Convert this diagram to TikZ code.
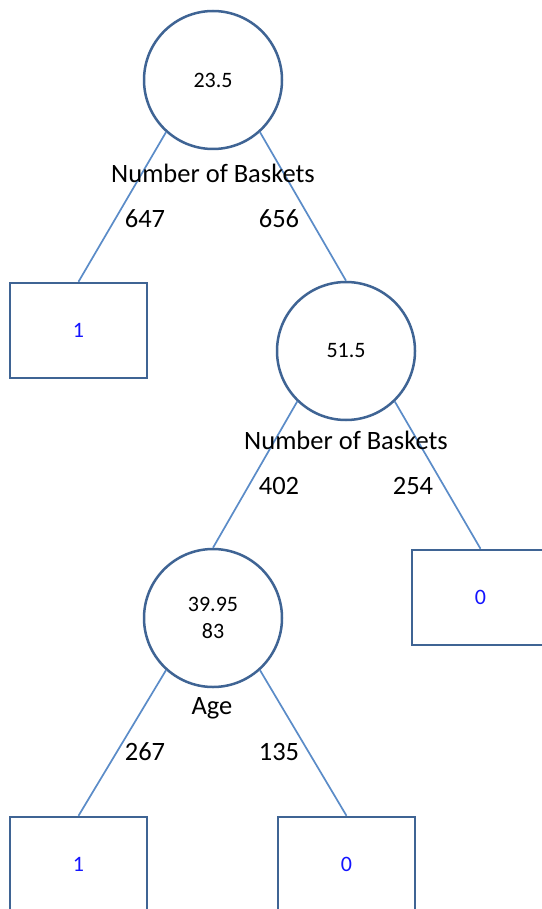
\documentclass[tikz,border=0pt]{standalone}
\usepackage{fontspec}
\setmainfont{Carlito}
\definecolor{nodeline}{HTML}{3F6494}
\definecolor{edgeline}{HTML}{5B8CC8}
\definecolor{leaftext}{HTML}{1414FF}
\tikzset{
  splitnode/.style={circle, draw=nodeline, line width=2.5pt, minimum size=138pt, inner sep=0pt, align=center, font=\fontsize{22}{27}\selectfont},
  leafbox/.style={rectangle, draw=nodeline, line width=2.5pt, minimum width=137pt, minimum height=95pt, inner sep=0pt, text=leaftext, font=\fontsize{22}{26}\selectfont},
  edge/.style={draw=edgeline, line width=1.7pt},
  lbl/.style={font=\fontsize{26.5}{30}\selectfont, inner sep=0pt}
}
\begin{document}
\begin{tikzpicture}[x=1pt,y=-1pt]
\useasboundingbox (0,0) rectangle (541,909);
\fill[white] (0,0) rectangle (541,909);
\node[splitnode] (c1) at (213,80) {23.5};
\node[splitnode] (c2) at (346,351) {51.5};
\node[splitnode] (c3) at (213,618) {39.95\\83};
\node[leafbox] (b1) at (78.5,330.5) {1};
\node[leafbox] (b2) at (480.5,597.5) {0};
\node[leafbox] (b3) at (78.5,864.5) {1};
\node[leafbox] (b4) at (346.5,864.5) {0};
\draw[edge] (c1.228) -- (b1.north);
\draw[edge] (c1.312) -- (c2.north);
\draw[edge] (c2.226) -- (c3.north);
\draw[edge] (c2.314) -- (b2.north);
\draw[edge] (c3.228) -- (b3.north);
\draw[edge] (c3.312) -- (b4.north);
\node[lbl] (t1) at (213,173) {Number of Baskets};
\node[lbl] (n1) at (145,219) {647};
\node[lbl] (n2) at (279,219) {656};
\node[lbl] (t2) at (346,440) {Number of Baskets};
\node[lbl] (n3) at (279,486) {402};
\node[lbl] (n4) at (413,486) {254};
\node[lbl] (t3) at (212,708) {Age};
\node[lbl] (n5) at (145,752) {267};
\node[lbl] (n6) at (279,752) {135};
\end{tikzpicture}
\end{document}
